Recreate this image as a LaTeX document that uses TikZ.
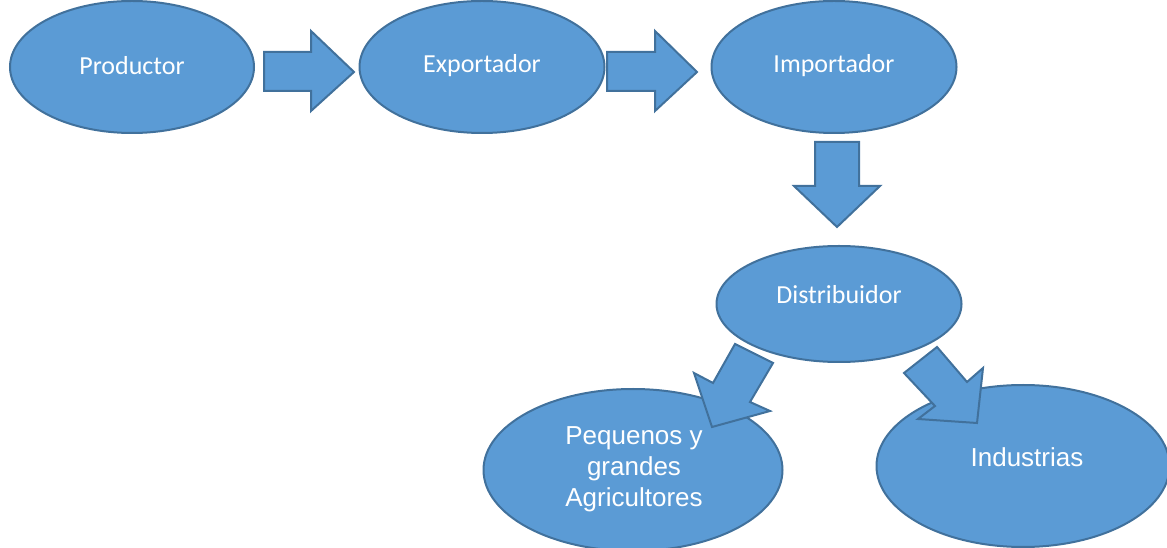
\documentclass[tikz,border=0pt]{standalone}
\usepackage{fontspec}
\setmainfont{Carlito}
\newfontfamily\arialf{Liberation Sans}
\usetikzlibrary{shapes.geometric}
\definecolor{boxfill}{HTML}{5B9BD5}
\definecolor{boxline}{HTML}{41719C}
\begin{document}
\begin{tikzpicture}[x=0.75pt,y=-0.75pt,
  oval/.style={ellipse,draw=boxline,fill=boxfill,line width=1.5pt,inner sep=0pt,outer sep=0pt},
  lbl/.style={text=white,font=\fontsize{19.5}{23}\selectfont,align=center,inner sep=0pt},
  lblb/.style={text=white,font=\arialf\fontsize{19.5}{23.2}\selectfont,align=center,inner sep=0pt},
  blockarrow/.style={draw=boxline,fill=boxfill,line width=1.5pt,line join=miter}]
\useasboundingbox (0,0) rectangle (1167,548);
% ellipses (sizes in pt = px * 0.75)
\node[oval,minimum width=183pt,minimum height=99pt] (prod) at (132,67) {};
\node[oval,minimum width=183.75pt,minimum height=99pt] (expo) at (482,67) {};
\node[oval,minimum width=183.75pt,minimum height=99pt] (impo) at (834,67) {};
\node[oval,minimum width=183.75pt,minimum height=87pt] (dist) at (839,304) {};
\node[oval,minimum width=224.25pt,minimum height=121.5pt] (pequ) at (633,470) {};
\node[oval,minimum width=219.75pt,minimum height=121.5pt] (indu) at (1023,466) {};
% labels
\node[lbl] (tprod) at (132,66) {Productor};
\node[lbl] (texpo) at (482,66) {Exportador};
\node[lbl] (timpo) at (834,66) {Importador};
\node[lbl] (tdist) at (839,295) {Distribuidor};
\node[lblb] (tpequ) at (634,469) {Pequenos y\\grandes\\Agricultores};
\node[lblb] (tindu) at (1027,457) {Industrias};
% block arrows
\draw[blockarrow] (264,52) -- (311,52) -- (311,31) -- (354,72) -- (311,111) -- (311,91) -- (264,91) -- cycle;
\draw[blockarrow] (607,52) -- (655,52) -- (655,31) -- (697,72) -- (655,111) -- (655,91) -- (607,91) -- cycle;
\draw[blockarrow] (815,142) -- (859,142) -- (859,186) -- (880,186) -- (837,227) -- (794,186) -- (815,186) -- cycle;
\draw[blockarrow] (735,344) -- (773,363) -- (750,402) -- (770,411) -- (712,427) -- (694,373) -- (713,383) -- cycle;
\draw[blockarrow] (937,347) -- (967,382) -- (983,368) -- (977,423) -- (918,419) -- (935,406) -- (904,373) -- cycle;
\end{tikzpicture}
\end{document}
